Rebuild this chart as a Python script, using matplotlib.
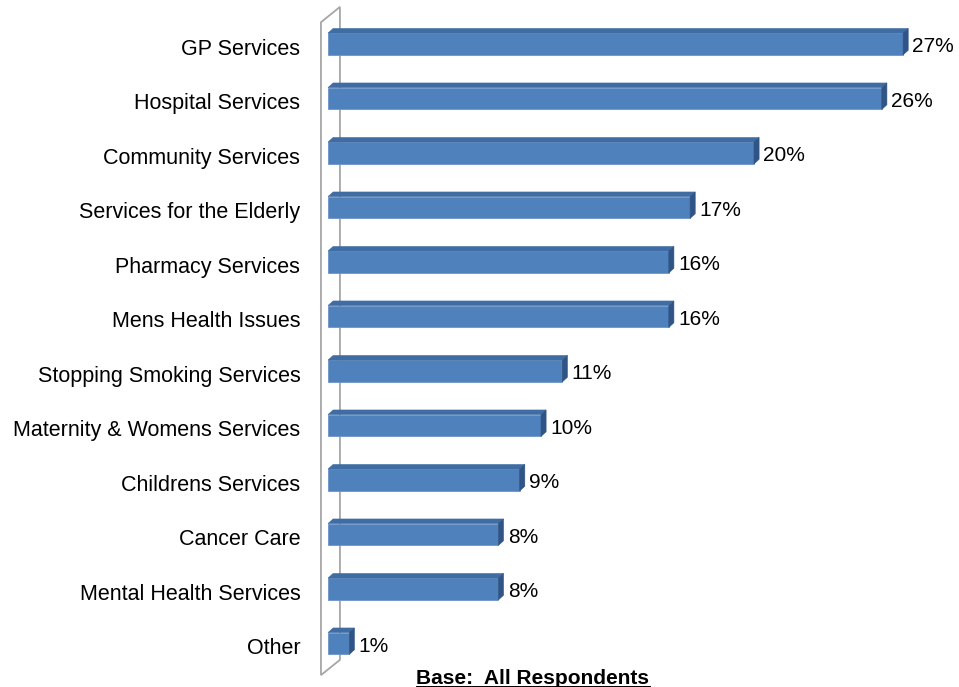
import matplotlib
matplotlib.use("Agg")
import matplotlib.pyplot as plt
from matplotlib.patches import Polygon

plt.rcParams["font.family"] = ["Liberation Sans", "DejaVu Sans"]

categories = [
    "GP Services", "Hospital Services", "Community Services",
    "Services for the Elderly", "Pharmacy Services", "Mens Health Issues",
    "Stopping Smoking Services", "Maternity & Womens Services",
    "Childrens Services", "Cancer Care", "Mental Health Services", "Other",
]
values = [27, 26, 20, 17, 16, 16, 11, 10, 9, 8, 8, 1]
base_note = "Base:  All Respondents"

FRONT = "#4F81BD"
TOP = "#3F6DA3"
SIDE = "#2F5485"
WALL = "#A6A6A6"

W, H = 959, 687
fig = plt.figure(figsize=(W / 100, H / 100), dpi=100)

# axes placed so 0% sits at the front of the wall
px_per_pct = 21.3
x0_px = 328
xmax = 29
ax = fig.add_axes([x0_px / W, 0, xmax * px_per_pct / W, 1])
row_px = 54.5
first_px = 44
ax.set_xlim(0, xmax)
ax.set_ylim((H - first_px) / row_px, -first_px / row_px)
ax.axis("off")

bar_h = 0.40
dx = 0.24   # depth in %
dy = 0.085  # depth in rows

# back wall drawn as a thin parallelogram
wall_l, wall_r = -0.33, 0.56
wall = Polygon([(wall_l, -0.40), (wall_r, -0.68), (wall_r, 11.30), (wall_l, 11.58)],
               closed=True, fill=False, edgecolor=WALL, lw=1.3, clip_on=False)
ax.add_patch(wall)

for i, (cat, v) in enumerate(zip(categories, values)):
    top = i - bar_h / 2
    bot = i + bar_h / 2
    front = Polygon([(0, top), (v, top), (v, bot), (0, bot)], closed=True,
                    facecolor=FRONT, edgecolor="#6D95C8", lw=0.6, clip_on=False, zorder=3)
    lid = Polygon([(0, top), (dx, top - dy), (v + dx, top - dy), (v, top)], closed=True,
                  facecolor=TOP, edgecolor=TOP, lw=0.4, clip_on=False, zorder=3)
    side = Polygon([(v, top), (v + dx, top - dy), (v + dx, bot - dy), (v, bot)], closed=True,
                   facecolor=SIDE, edgecolor=SIDE, lw=0.4, clip_on=False, zorder=3)
    for p in (front, lid, side):
        ax.add_patch(p)
    ax.text(v + dx + 0.2, i + 0.05, f"{v}%", ha="left", va="center", fontsize=15, clip_on=False)
    ax.text(-1.3, i + 0.1, cat, ha="right", va="center", fontsize=15.5, clip_on=False)

note = fig.text(533 / W, 1 - 678 / H, base_note, ha="center", va="center",
                fontsize=15, fontweight="bold")
fig.canvas.draw()
bb = note.get_window_extent()
ul_y = (bb.y0 + 1) / H
fig.add_artist(plt.Line2D([bb.x0 / W, bb.x1 / W], [ul_y, ul_y], color="black", lw=1.4))

fig.savefig("out.png", dpi=100)
